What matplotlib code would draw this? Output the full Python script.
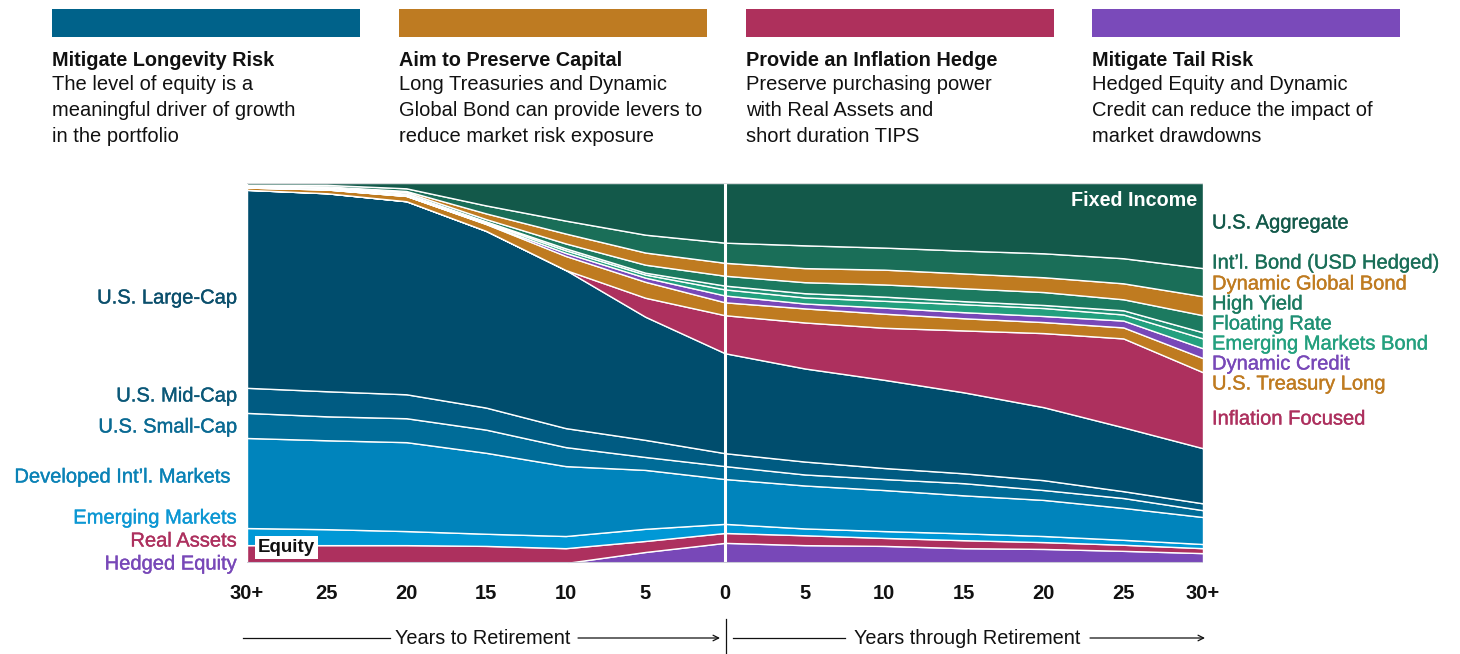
import matplotlib
matplotlib.use("Agg")
import matplotlib.pyplot as plt
from matplotlib.patches import Rectangle
import matplotlib.patheffects as pe

plt.rcParams['font.family'] = ['Liberation Sans', 'DejaVu Sans']

# ---------------- data ----------------
tick_labels = ["30+", "25", "20", "15", "10", "5", "0", "5", "10", "15", "20", "25", "30+"]

hedged_equity   = [0, 0, 0, 0, 0, 2.9, 5.3, 4.7, 4.5, 3.9, 3.7, 3.2, 2.6]
real_assets     = [4.7, 4.7, 4.7, 4.5, 3.9, 2.9, 2.6, 2.6, 2.1, 2.1, 1.8, 1.6, 1.3]
emerging_mkts   = [4.5, 4.2, 3.7, 3.2, 3.2, 3.2, 2.4, 1.8, 1.8, 1.8, 1.6, 1.3, 1.1]
developed_intl  = [23.7, 23.4, 23.4, 21.3, 18.4, 15.5, 11.8, 11.3, 10.8, 10.0, 9.5, 8.4, 7.1]
small_cap       = [6.6, 6.3, 6.3, 6.1, 5.0, 3.4, 3.4, 2.9, 2.9, 3.2, 2.6, 2.6, 1.8]
mid_cap         = [6.6, 6.6, 6.3, 5.8, 5.0, 4.5, 3.4, 3.4, 2.9, 2.6, 2.6, 1.8, 1.8]
large_cap       = [52.1, 52.1, 50.8, 46.5, 41.6, 32.4, 26.3, 24.5, 23.2, 21.3, 19.2, 16.8, 14.5]
inflation_focused = [0, 0, 0, 0, 0, 5.0, 10.0, 12.1, 13.7, 16.3, 19.5, 23.4, 20.0]
ust_long        = [0.6, 1.0, 1.4, 1.8, 3.7, 4.2, 3.4, 3.7, 3.7, 3.2, 2.9, 2.9, 3.7]
dynamic_credit  = [0, 0, 0, 0.1, 0.8, 1.1, 1.8, 1.3, 1.6, 1.6, 1.6, 1.8, 2.6]
em_bond         = [0.1, 0.2, 0.3, 0.3, 0.7, 0.8, 1.6, 1.6, 1.8, 2.1, 2.1, 1.6, 2.6]
floating_rate   = [0.1, 0.2, 0.3, 0.3, 0.5, 0.5, 1.0, 1.1, 1.1, 0.8, 0.8, 1.1, 1.6]
high_yield      = [0.2, 0.3, 0.4, 0.6, 1.3, 2.1, 2.6, 2.9, 3.2, 3.4, 3.4, 2.9, 4.5]
dyn_global_bond = [0, 0.1, 0.3, 1.5, 2.6, 3.2, 3.4, 3.7, 3.9, 3.9, 3.9, 4.2, 5.0]
intl_bond       = [0.3, 0.4, 0.7, 2.1, 3.4, 4.7, 5.3, 6.0, 5.8, 6.0, 6.3, 6.6, 7.4]
us_aggregate    = [0.5, 0.5, 1.4, 5.9, 9.9, 13.6, 15.7, 16.4, 17.0, 17.8, 18.5, 19.8, 22.4]

# ---------------- colours ----------------
C_AGG = "#13594A"
C_INTL = "#1A6E58"
C_GOLD = "#BF7B20"
C_HY = "#1C7A60"
C_FR = "#1F9074"
C_EMB = "#23A07E"
C_PURPLE = "#7848B8"
C_CRIMSON = "#AD305E"
C_LARGE = "#004D6D"
C_MID = "#005B82"
C_SMALL = "#006C98"
C_DEV = "#0084BC"
C_EM = "#0098D6"

series = [hedged_equity, real_assets, emerging_mkts, developed_intl, small_cap, mid_cap,
          large_cap, inflation_focused, ust_long, dynamic_credit, em_bond, floating_rate,
          high_yield, dyn_global_bond, intl_bond, us_aggregate]
colors = [C_PURPLE, C_CRIMSON, C_EM, C_DEV, C_SMALL, C_MID, C_LARGE, C_CRIMSON, C_GOLD,
          C_PURPLE, C_EMB, C_FR, C_HY, C_GOLD, C_INTL, C_AGG]

W, H = 1460, 654
fig = plt.figure(figsize=(W / 100, H / 100), dpi=100)

LBL = 14.5  # label font size

# main axes (pixel box 247..1203 x 183..563)
ax = fig.add_axes([247 / W, (H - 563) / H, (1203 - 247) / W, (563 - 183) / H])
x = list(range(len(tick_labels)))
ax.stackplot(x, *series, colors=colors, edgecolor="white", linewidth=1.0)
ax.set_xlim(0, 12)
ax.set_ylim(0, 100)
ax.axvline(6, color="white", lw=2.2)
ax.axhline(100, color="#cfd3d6", lw=1.2)
ax.axhline(0, color="#c9c9d6", lw=1.5)
for s in ax.spines.values():
    s.set_visible(False)
ax.set_yticks([])
ax.set_xticks(x)
ax.set_xticklabels(tick_labels, fontsize=14.5, fontweight="bold", color="#111111")
ax.tick_params(axis="x", length=0, pad=15)

ax.text(0.14, 4.0, "Equity", fontsize=13.5, fontweight="bold", color="#111111",
        ha="left", va="center",
        bbox=dict(boxstyle="square,pad=0.16", fc="white", ec="none"))
ax.text(11.93, 95.3, "Fixed Income", fontsize=14.2, fontweight="bold", color="white",
        ha="right", va="center")

# overlay axes in pixel coordinates for annotations
ov = fig.add_axes([0, 0, 1, 1], facecolor="none")
ov.set_xlim(0, W)
ov.set_ylim(H, 0)
ov.axis("off")

headers = [
    (52, "#00628A", "Mitigate Longevity Risk",
     ["The level of equity is a", "meaningful driver of growth", "in the portfolio"]),
    (399, "#BE7B22", "Aim to Preserve Capital",
     ["Long Treasuries and Dynamic", "Global Bond can provide levers to", "reduce market risk exposure"]),
    (746, "#AE305C", "Provide an Inflation Hedge",
     ["Preserve purchasing power", "with Real Assets and", "short duration TIPS"]),
    (1092, "#7A4ABA", "Mitigate Tail Risk",
     ["Hedged Equity and Dynamic", "Credit can reduce the impact of", "market drawdowns"]),
]
for x0, col, title, lines in headers:
    ov.add_patch(Rectangle((x0, 9), 308, 28, color=col, lw=0))
    ov.text(x0, 60, title, fontsize=14.3, fontweight="bold", color="#111111", ha="left", va="center")
    for i, ln in enumerate(lines):
        ov.text(x0, 85 + i * 25.7, ln, fontsize=14.5, color="#111111", ha="left", va="center")

left_labels = [
    ("U.S. Large-Cap", 298, "#0B4F6C"),
    ("U.S. Mid-Cap", 396, "#0B5878"),
    ("U.S. Small-Cap", 427, "#0A6A93"),
    ("Developed Int\u2019l. Markets", 477, "#0A82B6"),
    ("Emerging Markets", 518, "#0C97D3"),
    ("Real Assets", 541, C_CRIMSON),
    ("Hedged Equity", 564, C_PURPLE),
]
for txt, yy, col in left_labels:
    xr = 231 if "Developed" in txt else 237
    ov.text(xr, yy, txt, fontsize=LBL, color=col, ha="right", va="center",
            path_effects=[pe.withStroke(linewidth=0.25, foreground=col)])

right_labels = [
    ("U.S. Aggregate", 223, C_AGG),
    ("Int\u2019l. Bond (USD Hedged)", 263, C_INTL),
    ("Dynamic Global Bond", 284, C_GOLD),
    ("High Yield", 304, C_HY),
    ("Floating Rate", 324, C_FR),
    ("Emerging Markets Bond", 344, C_EMB),
    ("Dynamic Credit", 364, C_PURPLE),
    ("U.S. Treasury Long", 384, C_GOLD),
    ("Inflation Focused", 419, C_CRIMSON),
]
for txt, yy, col in right_labels:
    ov.text(1212, yy, txt, fontsize=LBL, color=col, ha="left", va="center",
            path_effects=[pe.withStroke(linewidth=0.25, foreground=col)])

# bottom axis captions with arrows
ya = 638
ov.plot([243, 390], [ya, ya], color="#111111", lw=0.9)
ov.text(483, ya, "Years to Retirement", fontsize=14.3, color="#111111", ha="center", va="center")
ov.annotate("", xy=(720, ya), xytext=(578, ya),
            arrowprops=dict(arrowstyle="->", color="#111111", lw=0.9, shrinkA=0, shrinkB=0))
ov.plot([726, 726], [619, 654], color="#111111", lw=0.9)
ov.plot([733, 845], [ya, ya], color="#111111", lw=0.9)
ov.text(967, ya, "Years through Retirement", fontsize=14.3, color="#111111", ha="center", va="center")
ov.annotate("", xy=(1205, ya), xytext=(1090, ya),
            arrowprops=dict(arrowstyle="->", color="#111111", lw=0.9, shrinkA=0, shrinkB=0))

fig.savefig("out.png", dpi=100, facecolor="white")
